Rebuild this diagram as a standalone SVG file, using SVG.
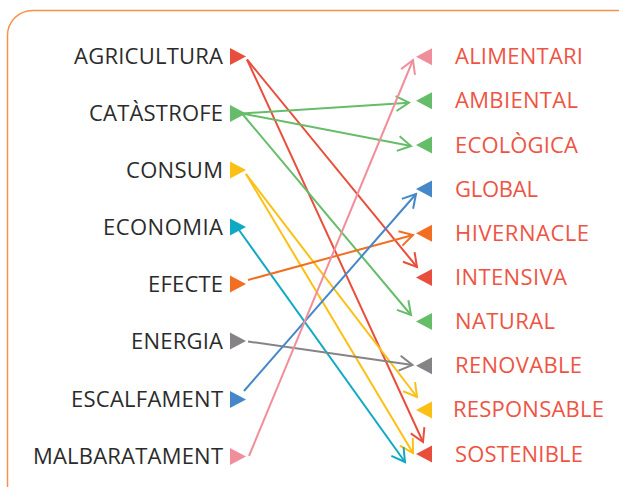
<svg xmlns="http://www.w3.org/2000/svg" width="619" height="487" viewBox="0 0 619 487">
<style>
.lt{font-family:"Open Sans","Liberation Sans",sans-serif;font-size:22px;fill:#2b2b2b;text-anchor:end}
.rt{font-family:"Open Sans","Liberation Sans",sans-serif;font-size:22px;fill:#ee5443}
.ln{fill:none;stroke-width:2}
.mk{fill:none;stroke-width:2;stroke-linejoin:miter}
</style>
<defs>
<marker id="m-red" markerUnits="userSpaceOnUse" orient="auto" refX="0" refY="0" markerWidth="30" markerHeight="30" viewBox="-15 -15 30 30" overflow="visible"><path class="mk" stroke="#e94e3c" d="M-13,-7.5 L0,0 L-13,7.5"/></marker>
<marker id="m-green" markerUnits="userSpaceOnUse" orient="auto" refX="0" refY="0" markerWidth="30" markerHeight="30" viewBox="-15 -15 30 30" overflow="visible"><path class="mk" stroke="#65bd6a" d="M-13,-7.5 L0,0 L-13,7.5"/></marker>
<marker id="m-yellow" markerUnits="userSpaceOnUse" orient="auto" refX="0" refY="0" markerWidth="30" markerHeight="30" viewBox="-15 -15 30 30" overflow="visible"><path class="mk" stroke="#fcc015" d="M-13,-7.5 L0,0 L-13,7.5"/></marker>
<marker id="m-cyan" markerUnits="userSpaceOnUse" orient="auto" refX="0" refY="0" markerWidth="30" markerHeight="30" viewBox="-15 -15 30 30" overflow="visible"><path class="mk" stroke="#10a9c4" d="M-13,-7.5 L0,0 L-13,7.5"/></marker>
<marker id="m-orange" markerUnits="userSpaceOnUse" orient="auto" refX="0" refY="0" markerWidth="30" markerHeight="30" viewBox="-15 -15 30 30" overflow="visible"><path class="mk" stroke="#f26f22" d="M-13,-7.5 L0,0 L-13,7.5"/></marker>
<marker id="m-gray" markerUnits="userSpaceOnUse" orient="auto" refX="0" refY="0" markerWidth="30" markerHeight="30" viewBox="-15 -15 30 30" overflow="visible"><path class="mk" stroke="#868386" d="M-13,-7.5 L0,0 L-13,7.5"/></marker>
<marker id="m-blue" markerUnits="userSpaceOnUse" orient="auto" refX="0" refY="0" markerWidth="30" markerHeight="30" viewBox="-15 -15 30 30" overflow="visible"><path class="mk" stroke="#4587c8" d="M-13,-7.5 L0,0 L-13,7.5"/></marker>
<marker id="m-pink" markerUnits="userSpaceOnUse" orient="auto" refX="0" refY="0" markerWidth="30" markerHeight="30" viewBox="-15 -15 30 30" overflow="visible"><path class="mk" stroke="#f18e9c" d="M-13,-7.5 L0,0 L-13,7.5"/></marker>
</defs>
<rect x="0" y="0" width="619" height="487" fill="#ffffff"/>
<rect x="7.5" y="10.5" width="640" height="520" rx="25" ry="25" fill="none" stroke="#f7914e" stroke-width="1.5"/>

<g id="left-agricultura"><text class="lt" x="223" y="64" textLength="149" lengthAdjust="spacing">AGRICULTURA</text><polygon points="230,48 230,65 246,56.5" fill="#e94e3c"/></g>
<g id="left-catastrofe"><text class="lt" x="223" y="121" textLength="134" lengthAdjust="spacing">CATÀSTROFE</text><polygon points="230,105 230,122 246,113.5" fill="#65bd6a"/></g>
<g id="left-consum"><text class="lt" x="223" y="177.5" textLength="97" lengthAdjust="spacing">CONSUM</text><polygon points="230,161.5 230,178.5 246,170" fill="#fcc015"/></g>
<g id="left-economia"><text class="lt" x="223" y="234.5" textLength="120" lengthAdjust="spacing">ECONOMIA</text><polygon points="230,218.5 230,235.5 246,227" fill="#10a9c4"/></g>
<g id="left-efecte"><text class="lt" x="223" y="291.5" textLength="75" lengthAdjust="spacing">EFECTE</text><polygon points="230,275.5 230,292.5 246,284" fill="#f26f22"/></g>
<g id="left-energia"><text class="lt" x="223" y="348.5" textLength="92" lengthAdjust="spacing">ENERGIA</text><polygon points="230,332.5 230,349.5 246,341" fill="#868386"/></g>
<g id="left-escalfament"><text class="lt" x="223" y="407" textLength="152" lengthAdjust="spacing">ESCALFAMENT</text><polygon points="230,391 230,408 246,399.5" fill="#4587c8"/></g>
<g id="left-malbaratament"><text class="lt" x="223" y="464" textLength="190" lengthAdjust="spacing">MALBARATAMENT</text><polygon points="230,448 230,465 246,456.5" fill="#f18e9c"/></g>

<g id="right-alimentari"><polygon points="432,48.2 432,65.2 416,56.7" fill="#f18e9c"/><text class="rt" x="455" y="64.2" textLength="128" lengthAdjust="spacing">ALIMENTARI</text></g>
<g id="right-ambiental"><polygon points="432,92.3 432,109.3 416,100.8" fill="#65bd6a"/><text class="rt" x="455" y="108.3" textLength="123" lengthAdjust="spacing">AMBIENTAL</text></g>
<g id="right-ecologica"><polygon points="432,136.5 432,153.5 416,145" fill="#65bd6a"/><text class="rt" x="455" y="152.5" textLength="123" lengthAdjust="spacing">ECOLÒGICA</text></g>
<g id="right-global"><polygon points="432,180.6 432,197.6 416,189.1" fill="#4587c8"/><text class="rt" x="455" y="196.6" textLength="83" lengthAdjust="spacing">GLOBAL</text></g>
<g id="right-hivernacle"><polygon points="432,224.8 432,241.8 416,233.3" fill="#f26f22"/><text class="rt" x="455" y="240.8" textLength="134" lengthAdjust="spacing">HIVERNACLE</text></g>
<g id="right-intensiva"><polygon points="432,268.9 432,285.9 416,277.4" fill="#e94e3c"/><text class="rt" x="455" y="284.9" textLength="112" lengthAdjust="spacing">INTENSIVA</text></g>
<g id="right-natural"><polygon points="432,313.1 432,330.1 416,321.6" fill="#65bd6a"/><text class="rt" x="455" y="329.1" textLength="100" lengthAdjust="spacing">NATURAL</text></g>
<g id="right-renovable"><polygon points="432,357.2 432,374.2 416,365.7" fill="#868386"/><text class="rt" x="455" y="373.2" textLength="127" lengthAdjust="spacing">RENOVABLE</text></g>
<g id="right-responsable"><polygon points="432,401.4 432,418.4 416,409.9" fill="#fcc015"/><text class="rt" x="453" y="417.4" textLength="151" lengthAdjust="spacing">RESPONSABLE</text></g>
<g id="right-sostenible"><polygon points="432,445.5 432,462.5 416,454" fill="#e94e3c"/><text class="rt" x="455" y="461.5" textLength="128" lengthAdjust="spacing">SOSTENIBLE</text></g>

<g id="connectors">
<line class="ln" stroke="#e94e3c" x1="247" y1="59.5" x2="417" y2="267" marker-end="url(#m-red)"/>
<line class="ln" stroke="#e94e3c" x1="247" y1="59.5" x2="423" y2="442" marker-end="url(#m-red)"/>
<line class="ln" stroke="#65bd6a" x1="242" y1="113.5" x2="409" y2="102.7" marker-end="url(#m-green)"/>
<line class="ln" stroke="#65bd6a" x1="242" y1="113.5" x2="411" y2="146" marker-end="url(#m-green)"/>
<line class="ln" stroke="#65bd6a" x1="242" y1="113.5" x2="411" y2="315" marker-end="url(#m-green)"/>
<line class="ln" stroke="#fcc015" x1="246" y1="174" x2="417" y2="397" marker-end="url(#m-yellow)"/>
<line class="ln" stroke="#fcc015" x1="246" y1="174" x2="413" y2="453" marker-end="url(#m-yellow)"/>
<line class="ln" stroke="#10a9c4" x1="239" y1="230" x2="405" y2="462" marker-end="url(#m-cyan)"/>
<line class="ln" stroke="#f26f22" x1="248" y1="280" x2="413" y2="235" marker-end="url(#m-orange)"/>
<line class="ln" stroke="#868386" x1="248" y1="341.5" x2="412.5" y2="365" marker-end="url(#m-gray)"/>
<line class="ln" stroke="#4587c8" x1="244" y1="391" x2="416" y2="194" marker-end="url(#m-blue)"/>
<line class="ln" stroke="#f18e9c" x1="249" y1="456" x2="413" y2="60" marker-end="url(#m-pink)"/>
</g>
</svg>
